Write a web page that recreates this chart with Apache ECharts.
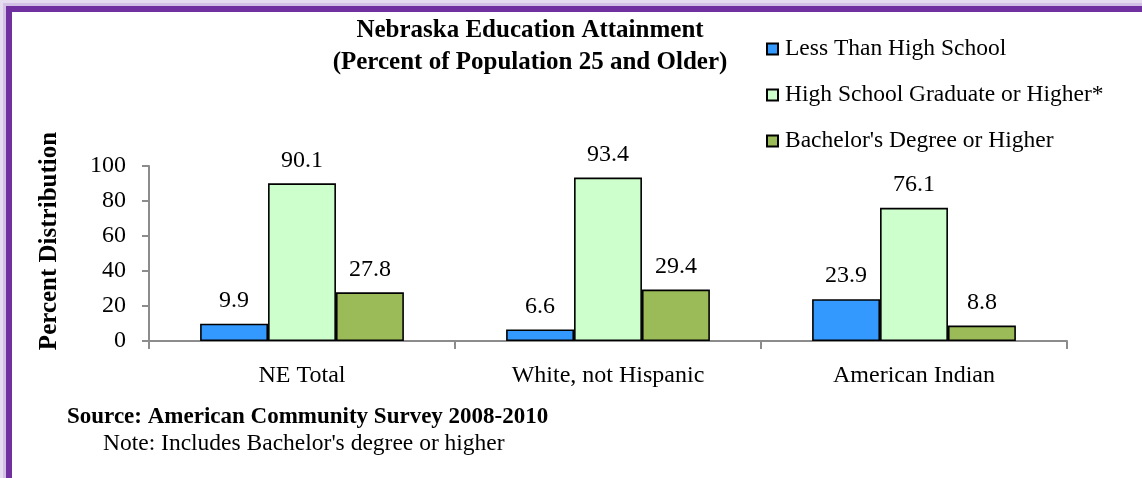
<!DOCTYPE html>
<html>
<head>
<meta charset="utf-8">
<script src="https://cdn.jsdelivr.net/npm/echarts@6/dist/echarts.min.js"></script>
<style>
  html, body { margin: 0; padding: 0; background: #ffffff; }
  #chart { width: 1142px; height: 478px; }
</style>
</head>
<body>
<div id="chart"></div>
<script>
// Nebraska education attainment by group (percent of population 25+)
const categories = ['NE Total', 'White, not Hispanic', 'American Indian'];
const seriesNames = ['Less Than High School', 'High School Graduate or Higher*', "Bachelor's Degree or Higher"];
const lessThanHS = [9.9, 6.6, 23.9];
const hsOrHigher = [90.1, 93.4, 76.1];
const bachelorsOrHigher = [27.8, 29.4, 8.8];
const yTicks = [0, 20, 40, 60, 80, 100];

const FONT = '"Liberation Serif", "DejaVu Serif", serif';
const colors = ['#3399FF', '#CCFFCC', '#9BBB59'];

const chart = echarts.init(document.getElementById('chart'), null, { renderer: 'canvas' });

function barSeries(name, data, color) {
  return {
    name: name,
    type: 'bar',
    data: data,
    barWidth: '22.2%',
    barGap: '0%',
    itemStyle: { color: color, borderColor: '#000', borderWidth: 1.6 },
    label: {
      show: true,
      position: 'top',
      distance: 11,
      fontFamily: FONT,
      fontSize: 24,
      color: '#000',
      formatter: p => p.value.toFixed(1)
    }
  };
}

chart.setOption({
  backgroundColor: '#ffffff',
  animation: false,
  graphic: [
    // soft lavender halo behind the frame
    { type: 'rect', z: -10, shape: { x: 0, y: 0, width: 1142, height: 478 }, style: { fill: '#e6dcf0' } },
    { type: 'rect', z: -9, shape: { x: 3, y: 3, width: 1142, height: 478 }, style: { fill: '#d2c1e4' } },
    // purple frame
    { type: 'rect', z: -8, shape: { x: 6, y: 6, width: 1142, height: 478 }, style: { fill: '#7030A0' } },
    { type: 'rect', z: -7, shape: { x: 12, y: 12, width: 1142, height: 478 }, style: { fill: '#ffffff' } },
    // vertical axis title
    {
      type: 'text', x: 50, y: 241, rotation: Math.PI / 2,
      style: {
        text: 'Percent Distribution', font: 'bold 25px ' + FONT, fill: '#000',
        align: 'center', verticalAlign: 'middle'
      }
    },
    {
      type: 'text', left: 67, top: 406,
      style: { text: 'Source: American Community Survey 2008-2010', font: 'bold 23px ' + FONT, fill: '#000' }
    },
    {
      type: 'text', left: 103, top: 432,
      style: { text: "Note: Includes Bachelor's degree or higher", font: '23.5px ' + FONT, fill: '#000' }
    }
  ],
  title: {
    text: 'Nebraska Education Attainment\n(Percent of Population 25 and Older)',
    left: 525,
    top: 10,
    textAlign: 'center',
    textStyle: { fontFamily: FONT, fontWeight: 'bold', fontSize: 25, lineHeight: 32, color: '#000' }
  },
  legend: {
    orient: 'vertical',
    left: 761,
    top: 32,
    itemWidth: 11,
    itemHeight: 11,
    itemGap: 22,
    icon: 'rect',
    textStyle: { fontFamily: FONT, fontSize: 23.5, color: '#000', padding: [0, 0, 0, 2] },
    data: seriesNames
  },
  grid: { left: 149, right: 75, top: 166, bottom: 137, containLabel: false },
  xAxis: {
    type: 'category',
    data: categories,
    axisLine: { lineStyle: { color: '#8c8c8c', width: 2 } },
    axisTick: { show: true, length: 8, alignWithLabel: false, lineStyle: { color: '#8c8c8c', width: 2 } },
    axisLabel: { fontFamily: FONT, fontSize: 24, color: '#000', margin: 23 }
  },
  yAxis: {
    type: 'value',
    min: yTicks[0],
    max: yTicks[yTicks.length - 1],
    interval: 20,
    axisLine: { show: true, lineStyle: { color: '#8c8c8c', width: 2 } },
    axisTick: { show: true, length: 7, lineStyle: { color: '#8c8c8c', width: 2 } },
    splitLine: { show: false },
    axisLabel: { fontFamily: FONT, fontSize: 24, color: '#000', margin: 23 }
  },
  series: [
    barSeries(seriesNames[0], lessThanHS, colors[0]),
    barSeries(seriesNames[1], hsOrHigher, colors[1]),
    barSeries(seriesNames[2], bachelorsOrHigher, colors[2])
  ]
});
</script>
</body>
</html>
